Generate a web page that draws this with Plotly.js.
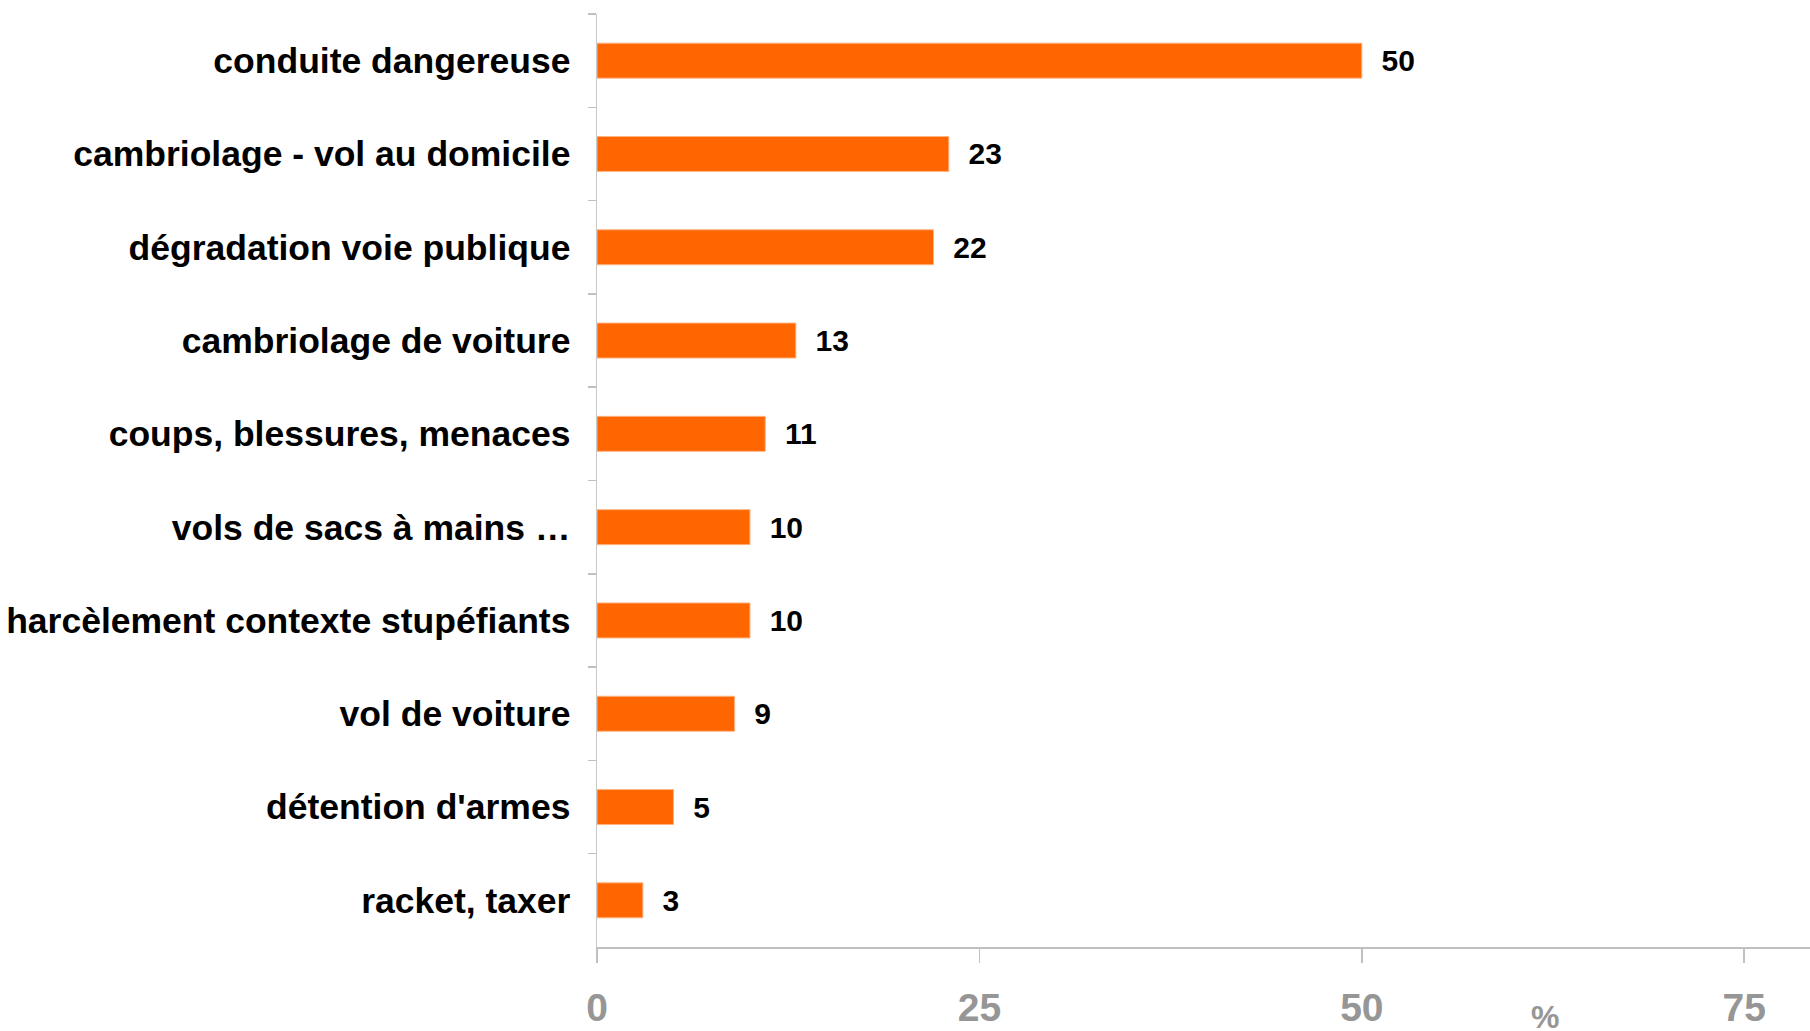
<!DOCTYPE html>
<html>
<head>
<meta charset="utf-8">
<script src="https://cdn.plot.ly/plotly-3.0.1.min.js"></script>
<style>html,body{margin:0;padding:0;background:#fff;}#chart{width:1810px;height:1031px;}</style>
</head>
<body>
<div id="chart"></div>
<script>
const categories = [
  "conduite dangereuse",
  "cambriolage - vol au domicile",
  "dégradation voie publique",
  "cambriolage de voiture",
  "coups, blessures, menaces",
  "vols de sacs à mains …",
  "harcèlement contexte stupéfiants",
  "vol de voiture",
  "détention d'armes",
  "racket, taxer"
];
const values = [50, 23, 22, 13, 11, 10, 10, 9, 5, 3];
const xTickValues = [0, 25, 50, 75];
const xAxisUnit = "%";

const trace = {
  type: "bar",
  orientation: "h",
  y: categories,
  x: values,
  width: 0.375,
  marker: {color: "#FF6600", line: {color: "#FFB380", width: 1}},
  texttemplate: "  %{x}",
  textposition: "outside",
  cliponaxis: false,
  textfont: {family: "Liberation Sans, Arial, sans-serif", size: 30, color: "#000", weight: "bold"},
  hoverinfo: "none"
};

const layout = {
  width: 1810, height: 1031,
  margin: {l: 597, r: 0, t: 14, b: 84},
  paper_bgcolor: "#fff", plot_bgcolor: "#fff",
  showlegend: false,
  font: {family: "Liberation Sans, Arial, sans-serif"},
  xaxis: {
    range: [0, 79.3],
    tickvals: xTickValues,
    ticktext: xTickValues.map(String),
    showgrid: false, zeroline: false,
    showline: true, linecolor: "#C0C0C0", linewidth: 2,
    ticks: "outside", ticklen: 14, tickcolor: "#C0C0C0", tickwidth: 1.5,
    ticklabelstandoff: 11,
    tickfont: {family: "Liberation Sans, Arial, sans-serif", size: 39, color: "#969696", weight: "bold"},
    fixedrange: true
  },
  yaxis: {
    type: "category",
    autorange: "reversed",
    showgrid: false, zeroline: false,
    showline: true, linecolor: "#C8C8C8", linewidth: 1.5,
    ticks: "outside", tickson: "boundaries", ticklen: 8, tickcolor: "#C0C0C0", tickwidth: 1.5,
    ticklabelstandoff: 18,
    tickfont: {family: "Liberation Sans, Arial, sans-serif", size: 35.5, color: "#000", weight: "bold"},
    fixedrange: true
  },
  annotations: [{
    text: xAxisUnit, xref: "paper", yref: "paper",
    x: (1545 - 597) / (1810 - 597), y: -0.075,
    xanchor: "center", yanchor: "middle", showarrow: false,
    font: {family: "Liberation Sans, Arial, sans-serif", size: 32, color: "#969696", weight: "bold"}
  }]
};

Plotly.newPlot("chart", [trace], layout, {displayModeBar: false, staticPlot: true});
</script>
</body>
</html>
